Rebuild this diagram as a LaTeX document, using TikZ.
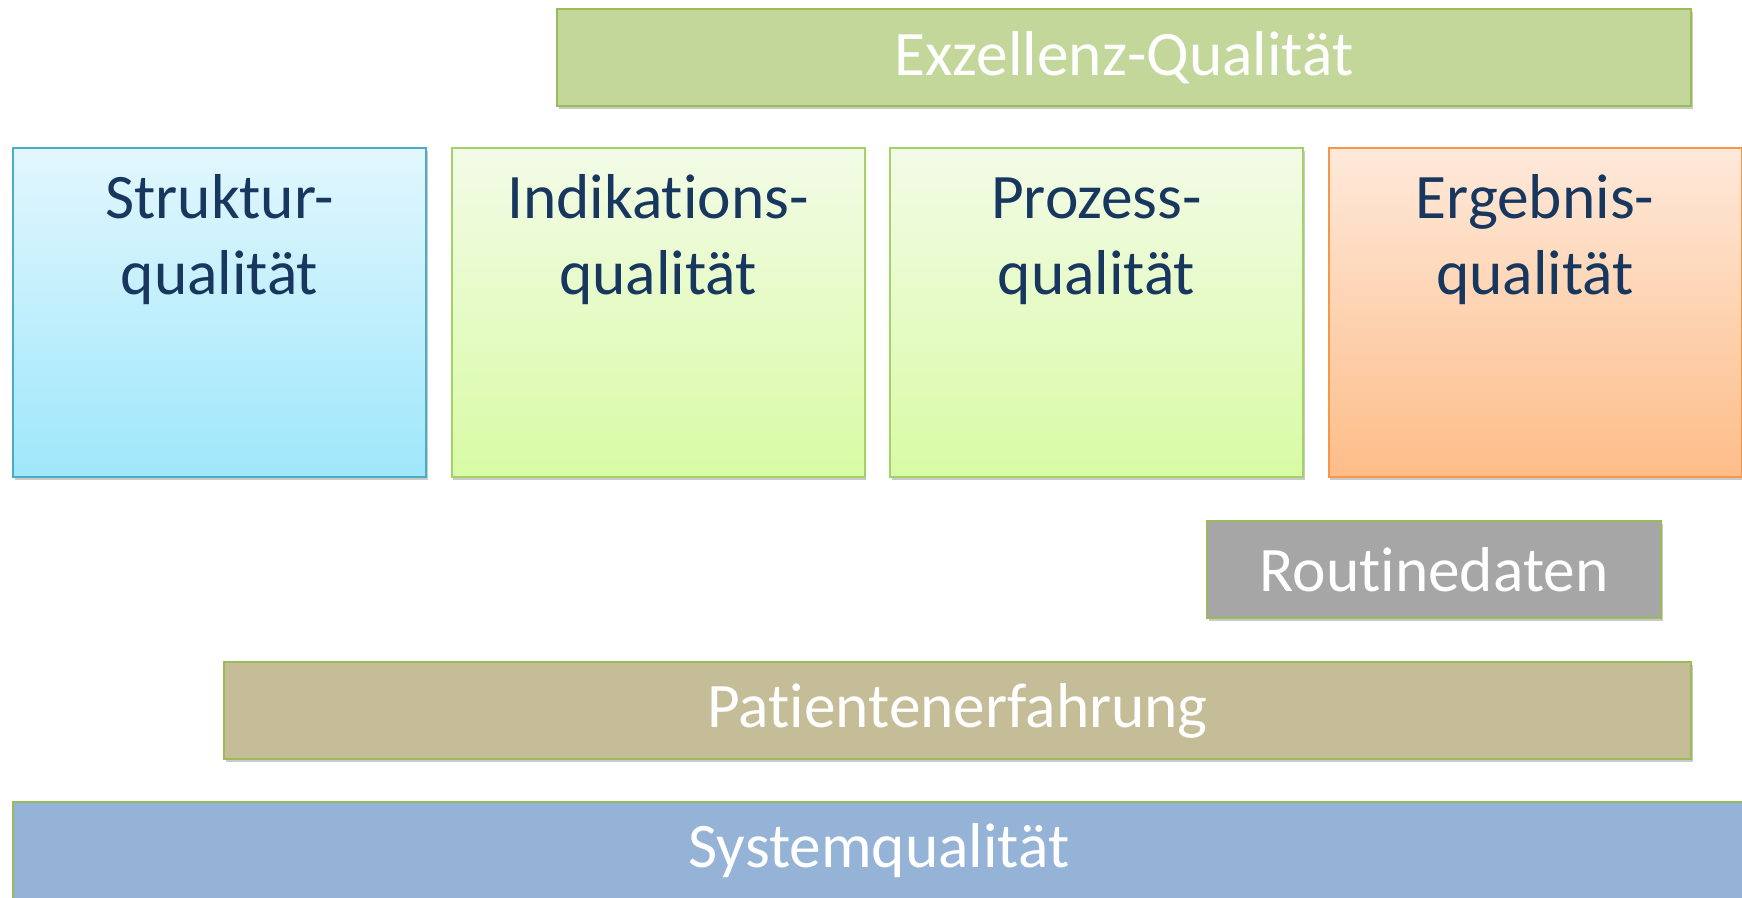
\documentclass[tikz,border=0pt]{standalone}
\usepackage{fontspec}
\setmainfont{Carlito}[RawFeature={-liga;-clig;-calt;-dlig}]
\usetikzlibrary{shadows}
\definecolor{grnborder}{HTML}{9BBB59}
\definecolor{exfill}{HTML}{C4D79B}
\definecolor{sttop}{HTML}{E2F7FD}
\definecolor{stbot}{HTML}{9EE7FB}
\definecolor{stborder}{HTML}{4BACC6}
\definecolor{gtop}{HTML}{F3FBE7}
\definecolor{gbot}{HTML}{D8FBA4}
\definecolor{gborder}{HTML}{A3D267}
\definecolor{otop}{HTML}{FEE9DA}
\definecolor{obot}{HTML}{FDBD88}
\definecolor{oborder}{HTML}{F79646}
\definecolor{rtfill}{HTML}{A6A6A6}
\definecolor{pafill}{HTML}{C4BD97}
\definecolor{syfill}{HTML}{95B3D7}
\definecolor{darktext}{HTML}{17375E}
\tikzset{
  shadowed/.style={drop shadow={shadow xshift=0.8pt, shadow yshift=-1.3pt, opacity=0.35, fill=black!60}},
  bar/.style={shadowed, draw=grnborder, line width=1pt, inner sep=0pt, outer sep=0pt,
    text=white, font=\fontsize{31.7pt}{38pt}\selectfont},
  qbox/.style={shadowed, line width=1pt, inner sep=0pt, outer sep=0pt,
    minimum width=206.5pt, minimum height=164.5pt},
  qtext/.style={inner sep=0pt, align=center, text=darktext,
    font=\fontsize{31.7pt}{38pt}\selectfont, anchor=north}
}
\begin{document}
\begin{tikzpicture}[x=0.5pt,y=-0.5pt]
\useasboundingbox (0,0) rectangle (1742,898);
% top bar
\node[bar, fill=exfill, minimum width=567pt, minimum height=48.5pt] (ex) at (1124,57.5) {Exzellenz-Qualität};
% four quality boxes
\node[qbox, draw=stborder, top color=sttop, bottom color=stbot] (st) at (219.5,312.5) {};
\node[qbox, draw=gborder, top color=gtop, bottom color=gbot] (in) at (658,312.5) {};
\node[qbox, draw=gborder, top color=gtop, bottom color=gbot] (pr) at (1096.5,312.5) {};
\node[qbox, draw=oborder, top color=otop, bottom color=obot] (er) at (1535,312.5) {};
\node[qtext] (stt) at ([yshift=-10pt]st.north) {\rule{0pt}{25pt}Struktur-\\qualität};
\node[qtext] (int) at ([yshift=-10pt]in.north) {\rule{0pt}{25pt}Indikations-\\qualität};
\node[qtext] (prt) at ([yshift=-10pt]pr.north) {\rule{0pt}{25pt}Prozess-\\qualität};
\node[qtext] (ert) at ([yshift=-10pt]er.north) {\rule{0pt}{25pt}Ergebnis-\\qualität};
% lower bars
\node[bar, fill=rtfill, minimum width=227pt, minimum height=48.5pt] (rt) at (1434,569.5) {Routinedaten};
\node[bar, fill=pafill, minimum width=733.5pt, minimum height=48.5pt] (pa) at (957.5,710.5) {Patientenerfahrung};
\node[bar, fill=syfill, minimum width=866pt, minimum height=48.5pt] (sy) at (879,850.5) {Systemqualität};
\end{tikzpicture}
\end{document}
